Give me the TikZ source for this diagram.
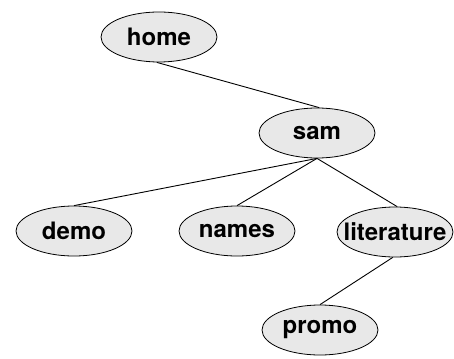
\documentclass[tikz,border=0pt]{standalone}
\usepackage{fontspec}
\setmainfont{TeX Gyre Heros}
\usetikzlibrary{shapes.geometric}
\tikzset{
  dirnode/.style={ellipse, draw=black, line width=0.8pt, fill=gray!18,
    minimum width=116pt, minimum height=50pt, inner sep=0pt,
    font=\fontsize{24}{28}\selectfont\bfseries},
  link/.style={draw=black, line width=0.9pt}
}
\newcommand{\lbl}[1]{\makebox[0pt]{#1}}
\begin{document}
\begin{tikzpicture}[x=1pt,y=-1pt]
\useasboundingbox (0,0) rectangle (454,358);
\node[dirnode] (home) at (159,37) {\lbl{home}};
\node[dirnode] (sam) at (317,133) {\lbl{sam}};
\node[dirnode] (demo) at (74,231) {\lbl{demo}};
\node[dirnode] (names) at (237,231) {\lbl{names}};
\node[dirnode] (literature) at (395,232) {\lbl{literature}};
\node[dirnode] (promo) at (320,330) {\lbl{promo}};
\draw[link] (home.265) -- (sam.85);
\draw[link] (sam.south) -- (demo.north);
\draw[link] (sam.south) -- (names.north);
\draw[link] (sam.south) -- (literature.85);
\draw[link] (literature.265) -- (promo.north);
\end{tikzpicture}
\end{document}
